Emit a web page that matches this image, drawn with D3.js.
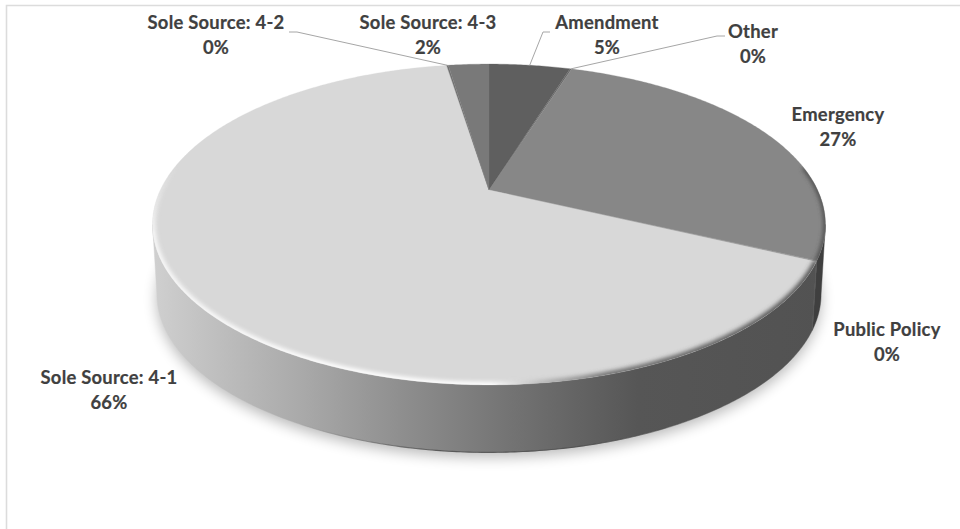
<!DOCTYPE html>
<html><head><meta charset="utf-8">
<script src="https://cdnjs.cloudflare.com/ajax/libs/d3/7.8.5/d3.min.js"></script>
<style>html,body{margin:0;padding:0;background:#fff;overflow:hidden}svg{display:block}
text{font-family:Lato,"Open Sans",sans-serif;font-weight:700;font-size:18.4px;letter-spacing:.25px;fill:#404040;stroke:#404040;stroke-width:.2px;text-anchor:middle}</style>
</head><body><svg id="c" width="960" height="529"></svg>
<script>
const categories = ["Amendment","Other","Emergency","Public Policy","Sole Source: 4-1","Sole Source: 4-2","Sole Source: 4-3"];
const values = [4.8,0.1,27,0.1,65.5,0.1,2.4];
const shownPercent = ["5%","0%","27%","0%","66%","0%","2%"];
const sliceColors = ["#5f5f5f","#6a6a6a","#878787","#9a9a9a","#d8d8d8","#707070","#797979"];

const W=960,H=529,TAU=Math.PI*2;
const cx=489,cy=190,persp=0.215,A=153,B=328.6,depth=70,shrink=0.987;
// projective mapping of a disc onto the screen
function proj(t,low){
  const u=Math.sin(t),v=Math.cos(t),d=1+persp*v,s=low?shrink:1;
  return [cx+s*B*u/d, cy-s*A*v/d+(low?depth:0)];
}
const line=d3.line();
function arcPts(a,b,low){
  const n=Math.max(2,Math.ceil(Math.abs(b-a)/0.01));
  return d3.range(n+1).map(i=>proj(a+(b-a)*i/n,low));
}
const svg=d3.select("#c");
const defs=svg.append("defs");
const blur=(id,s)=>defs.append("filter").attr("id",id).attr("filterUnits","userSpaceOnUse").attr("x",0).attr("y",0).attr("width",W).attr("height",H)
  .append("feGaussianBlur").attr("stdDeviation",s);
blur("b6",7);blur("b2",2);blur("b1",0.6);
const grad=(id,stops,x1,x2)=>{const g=defs.append("linearGradient").attr("id",id).attr("gradientUnits","userSpaceOnUse")
  .attr("x1",x1).attr("x2",x2).attr("y1",0).attr("y2",0);
  stops.forEach(s=>g.append("stop").attr("offset",s[0]).attr("stop-color",s[1]).attr("stop-opacity",s[2]===undefined?1:s[2]));};
grad("side",[[0,"#cfcfcf"],[0.1,"#bdbdbd"],[0.22,"#a9a9a9"],[0.37,"#8e8e8e"],[0.5,"#787878"],[0.62,"#656565"],[0.72,"#565656"],[1,"#525252"]],155,826);
grad("rim",[[0,"#f8f8f8"],[0.25,"#ffffff"],[0.5,"#ffffff"],[0.58,"#b5b5b5"],[0.68,"#6a6a6a"],[1,"#505050"]],155,826);
grad("lip",[[0,"#4a4a4a",0],[0.35,"#4a4a4a",.8],[0.7,"#4a4a4a",.8],[1,"#4a4a4a",0]],300,700);
const fade=defs.append("linearGradient").attr("id","fadeY").attr("gradientUnits","userSpaceOnUse").attr("x1",0).attr("x2",0).attr("y1",165).attr("y2",235);
fade.append("stop").attr("offset",0).attr("stop-color","#000");
fade.append("stop").attr("offset",1).attr("stop-color","#fff");
defs.append("mask").attr("id","fadeMask").attr("maskUnits","userSpaceOnUse").attr("x",0).attr("y",0).attr("width",W).attr("height",H)
  .append("rect").attr("width",W).attr("height",H).attr("fill","url(#fadeY)");

svg.append("rect").attr("width",W).attr("height",H).attr("fill","#fff");
svg.append("path").attr("d",`M6.5,${H}V5.5H${W}`).attr("fill","none").attr("stroke","#dcdcdc").attr("stroke-width",1.6);

const pie=d3.pie().sort(null).startAngle(0).endAngle(TAU)(values);
const full=arcPts(0,TAU,false), fullLow=arcPts(0,TAU,true);

// soft ground shadow
svg.append("path").attr("d",line(fullLow)+"Z").attr("transform","translate(0,5)")
  .attr("fill","#000").attr("opacity",.27).attr("filter","url(#b6)");

// side wall
const tL=Math.acos(-persp), tR=TAU-tL;
pie.forEach((d,i)=>{
  const a=Math.max(d.startAngle,tL), b=Math.min(d.endAngle,tR);
  if(b<=a) return;
  const fill = categories[i]==="Emergency" ? "#3f3f3f" : "url(#side)";
  svg.append("path").attr("d",line(arcPts(a,b,false).concat(arcPts(b,a,true)))+"Z").attr("fill",fill).attr("stroke",fill).attr("stroke-width",.4);
});
// dark lower lip of the wall
svg.append("path").attr("d",line(arcPts(2.5,3.8,true))).attr("fill","none").attr("stroke","url(#lip)").attr("stroke-width",1.1).attr("filter","url(#b1)");

// top face
defs.append("clipPath").attr("id","topClip").append("path").attr("d",line(full)+"Z");
const gTop=svg.append("g");
pie.forEach((d,i)=>{
  gTop.append("path").attr("d",line([[cx,cy]].concat(arcPts(d.startAngle,d.endAngle,false)))+"Z")
    .attr("fill",sliceColors[i]).attr("stroke",sliceColors[i]).attr("stroke-width",.3);
});

// bevel along the front rim
const gBevel=svg.append("g").attr("clip-path","url(#topClip)");
const iEm=categories.indexOf("Emergency"), iS=categories.indexOf("Sole Source: 4-1");
gBevel.append("g").attr("mask","url(#fadeMask)").append("path")
  .attr("d",line(arcPts(pie[iS].startAngle,5.2,false))).attr("fill","none")
  .attr("stroke","url(#rim)").attr("stroke-width",6).attr("filter","url(#b2)");
gBevel.append("path").attr("d",line(arcPts(1.42,pie[iEm].endAngle,false))).attr("fill","none")
  .attr("stroke","#4a4a4a").attr("stroke-width",4).attr("filter","url(#b2)");

// leader lines
const mid=n=>{const d=pie[categories.indexOf(n)];return proj((d.startAngle+d.endAngle)/2,false);};
const leaders=[["Amendment",[[543,32],[550,32]]],["Other",[[717,36],[725,36]]],["Sole Source: 4-2",[[297,32],[289,32]]]];
leaders.forEach(([n,rest])=>{
  svg.append("path").attr("d",line([mid(n)].concat(rest))).attr("fill","none").attr("stroke","#a6a6a6").attr("stroke-width",1);
});

// labels: centre x, first baseline y
const labelPos=[[607,29],[753,38],[838,121],[887,336],[109,384],[216,29],[428,29]];
categories.forEach((c,i)=>{
  const [x,y]=labelPos[i];
  const t=svg.append("text").attr("x",x).attr("y",y);
  t.append("tspan").attr("x",x).text(c);
  t.append("tspan").attr("x",x).attr("dy",25.3).text(shownPercent[i]);
});
</script></body></html>
